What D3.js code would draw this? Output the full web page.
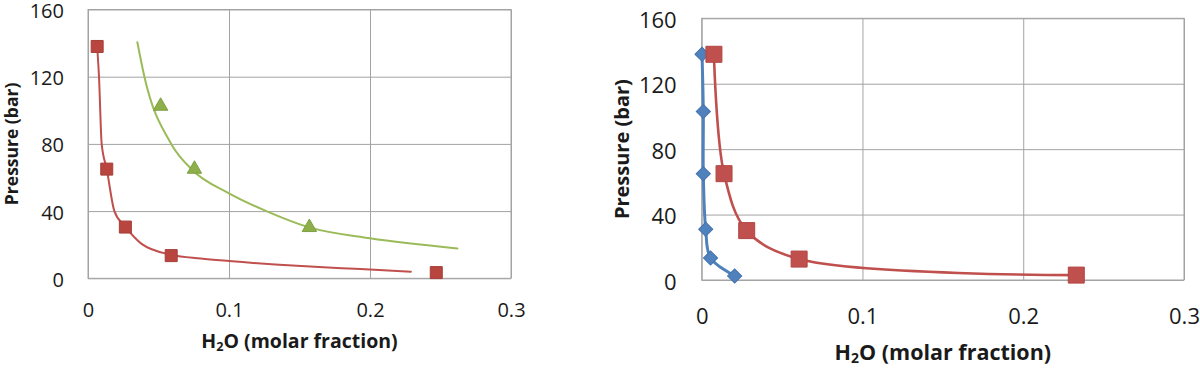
<!DOCTYPE html>
<html>
<head>
<meta charset="utf-8">
<script src="https://cdn.jsdelivr.net/npm/d3@7"></script>
<style>
  body { margin: 0; background: #fff; }
  svg { display: block; }
  .grid line { stroke: #a3a3a3; stroke-width: 1; }
  .grid .domain { display: none; }
  .tick text { fill: #1a1a1a; font-family: "Open Sans", sans-serif; }
  .title { fill: #1a1a1a; font-family: "Open Sans", sans-serif; font-weight: bold; }
</style>
</head>
<body>
<svg id="chart" width="1200" height="369"></svg>
<script>
// axis ticks (both panels share them)
var xTicks = [0, 0.1, 0.2, 0.3];
var yTicks = [0, 40, 80, 120, 160];

// left panel: measured points [H2O fraction, pressure bar]
var leftRed   = [[0.0065, 138], [0.0133, 65], [0.0265, 30.5], [0.059, 13.5], [0.247, 3.4]];
var leftGreen = [[0.0515, 102.5], [0.0755, 65], [0.157, 30.3]];
// left panel trend curves
var leftRedTrend   = [[0.0065, 138], [0.0078, 120], [0.0097, 80], [0.0133, 65], [0.0187, 40],
                      [0.0262, 31], [0.038, 20.5], [0.059, 14], [0.08, 11.8], [0.1, 10.3],
                      [0.18, 6], [0.2, 5.3], [0.229, 3.9]];
var leftGreenTrend = [[0.035, 140.5], [0.04, 120], [0.059, 80], [0.074, 64.5], [0.1, 50.6],
                      [0.1265, 40], [0.157, 30.3], [0.2, 23.8], [0.262, 17.8]];

// right panel: measured points
var rightRed  = [[0.0076, 138], [0.0139, 65], [0.028, 30.2], [0.0606, 12.8], [0.233, 3]];
var rightBlue = [[0.0002, 138], [0.001, 103], [0.001, 65], [0.0025, 31], [0.0055, 13.5], [0.0205, 2.5]];

var svg = d3.select('#chart');

function panel(opt) {
    var x = d3.scaleLinear().domain([0, 0.3]).range([opt.left, opt.right]);
    var y = d3.scaleLinear().domain([0, 160]).range([opt.bottom, opt.top]);
    var g = svg.append('g');

    // horizontal grid + y labels
    g.append('g')
        .attr('class', 'grid')
        .attr('transform', 'translate(' + opt.left + ',0)')
        .call(d3.axisLeft(y).tickValues(yTicks).tickSize(-(opt.right - opt.left))
              .tickPadding(opt.yPad).tickFormat(d3.format('d')))
        .selectAll('text')
        .attr('dy', opt.yDy)
        .style('font-size', opt.tickFont + 'px');

    // vertical grid + x labels
    g.append('g')
        .attr('class', 'grid')
        .attr('transform', 'translate(0,' + opt.bottom + ')')
        .call(d3.axisBottom(x).tickValues(xTicks).tickSize(-(opt.bottom - opt.top))
              .tickPadding(opt.xPad).tickFormat(String))
        .selectAll('text').style('font-size', opt.tickFont + 'px');

    // plot frame
    g.append('rect')
        .attr('x', opt.left).attr('y', opt.top)
        .attr('width', opt.right - opt.left).attr('height', opt.bottom - opt.top)
        .attr('fill', 'none').attr('stroke', '#a3a3a3');

    // axis titles
    var xt = g.append('text')
        .attr('class', 'title')
        .attr('x', (opt.left + opt.right) / 2)
        .attr('y', opt.xTitleY)
        .attr('text-anchor', 'middle')
        .style('font-size', opt.xTitleFont + 'px');
    xt.append('tspan').text('H');
    xt.append('tspan').text('2').attr('dy', '0.25em').style('font-size', (opt.xTitleFont * 0.65) + 'px');
    xt.append('tspan').text('O (molar fraction)').attr('dy', '-0.16em');

    g.append('text')
        .attr('class', 'title')
        .attr('transform', 'translate(' + opt.yTitleX + ',' + ((opt.top + opt.bottom) / 2) + ') rotate(-90)')
        .attr('text-anchor', 'middle')
        .attr('dy', '0.35em')
        .style('font-size', opt.yTitleFont + 'px')
        .text('Pressure (bar)');

    return { g: g, x: x, y: y };
}

function curve(p, pts, color, width, c) {
    var line = d3.line()
        .x(function(d) { return p.x(d[0]); })
        .y(function(d) { return p.y(d[1]); })
        .curve(c);
    p.g.append('path')
        .datum(pts)
        .attr('d', line)
        .attr('fill', 'none')
        .attr('stroke', color)
        .attr('stroke-width', width)
        .attr('stroke-linecap', 'round');
}

function markers(p, pts, type, size, fill, stroke, rot) {
    p.g.selectAll(null)
        .data(pts)
      .enter().append('path')
        .attr('d', d3.symbol().type(type).size(size))
        .attr('transform', function(d) {
            return 'translate(' + p.x(d[0]) + ',' + p.y(d[1]) + ')' + (rot ? ' rotate(' + rot + ')' : '');
        })
        .attr('fill', fill)
        .attr('stroke', stroke)
        .attr('stroke-width', 1);
}

// ---- left panel
var L = panel({ left: 88, right: 511, top: 9.5, bottom: 278.3, yPad: 24, xPad: 25, yDy: '0.4em',
                tickFont: 20, xTitleFont: 19.5, yTitleFont: 17.5, xTitleY: 348, yTitleX: 12 });
curve(L, leftRedTrend, '#C0504D', 2, d3.curveMonotoneX);
curve(L, leftGreenTrend, '#9BBB59', 2, d3.curveMonotoneX);
markers(L, leftRed, d3.symbolSquare, 144, '#B8463F', '#A63E3B');
markers(L, leftGreen, d3.symbolTriangle, 90, '#8DB04A', '#7FA040');

// ---- right panel
var R = panel({ left: 701.7, right: 1184, top: 18.3, bottom: 280, yPad: 25, xPad: 28, yDy: '0.42em',
                tickFont: 22, xTitleFont: 21.5, yTitleFont: 20, xTitleY: 360, yTitleX: 622 });
curve(R, rightBlue, '#4F81BD', 3, d3.curveCatmullRom.alpha(0.5));
curve(R, rightRed, '#C0504D', 2.6, d3.curveCatmullRom.alpha(0.5));
markers(R, rightBlue, d3.symbolSquare, 100, '#4F81BD', '#4573AE', 45);
markers(R, rightRed, d3.symbolSquare, 256, '#C0504D', '#B14643');
</script>
</body>
</html>
